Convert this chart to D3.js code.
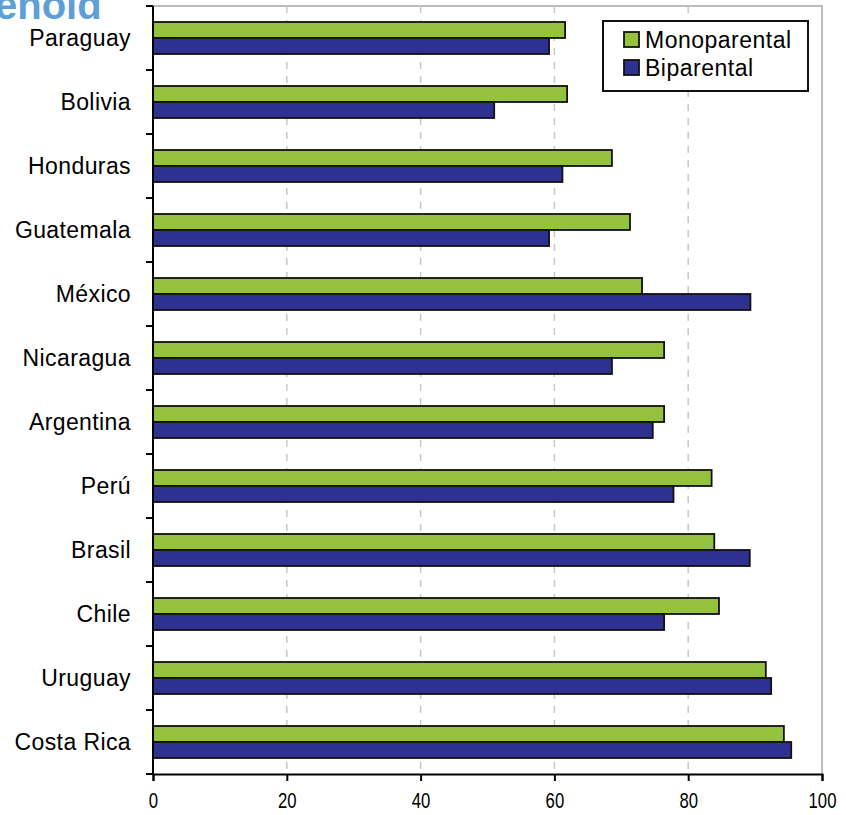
<!DOCTYPE html>
<html><head><meta charset="utf-8">
<script src="https://cdn.jsdelivr.net/npm/d3@7"></script>
<style>
html,body{margin:0;padding:0;background:#fff;}
svg{display:block;}
text{font-family:"Liberation Sans",Arial,sans-serif;}
</style></head>
<body>
<svg id="chart" width="846" height="815"></svg>
<script>
const categories = ["Paraguay","Bolivia","Honduras","Guatemala","México","Nicaragua","Argentina","Perú","Brasil","Chile","Uruguay","Costa Rica"];
const monoparental = [61.6, 61.9, 68.6, 71.3, 73.1, 76.4, 76.4, 83.5, 83.9, 84.6, 91.6, 94.3];
const biparental   = [59.2, 51.0, 61.2, 59.2, 89.3, 68.6, 74.7, 77.8, 89.2, 76.4, 92.4, 95.4];
const seriesNames = ["Monoparental","Biparental"];
const seriesColors = ["#95c23d","#2e3190"];
const xTicks = [0,20,40,60,80,100];

const svg = d3.select("#chart");
const L = 153, R = 822, T = 6, B = 774;

const x = d3.scaleLinear().domain([0,100]).range([L,R]);
const y = d3.scaleBand().domain(categories).range([T,B]).padding(0);
const ys = d3.scaleBand().domain(seriesNames).range([y.bandwidth()*0.25, y.bandwidth()*0.75]);

// partial title (cut off at the top edge, as in the source image)
svg.append("text").attr("x",-5).attr("y",19)
  .attr("font-size",40).attr("font-weight","bold").attr("fill","#5f9fd8")
  .text("enold");

// plot border (top, right)
svg.append("path").attr("d",`M${L},${T}H${R}V${B}`)
  .attr("fill","none").attr("stroke","#a6a6a6").attr("stroke-width",1.5);

// gridlines
svg.append("g").selectAll("line").data(xTicks.filter(d=>d>0 && d<100)).join("line")
  .attr("x1",d=>x(d)).attr("x2",d=>x(d)).attr("y1",T).attr("y2",B)
  .attr("stroke","#c8c8c8").attr("stroke-width",1.5).attr("stroke-dasharray","7,7");

// bars
const data = categories.map((c,i)=>({c, vals:[monoparental[i], biparental[i]]}));
const g = svg.append("g");
data.forEach(d=>{
  seriesNames.forEach((s,j)=>{
    g.append("rect")
      .attr("x",x(0)).attr("y",y(d.c)+ys(s))
      .attr("width",x(d.vals[j])-x(0)).attr("height",ys.bandwidth())
      .attr("fill",seriesColors[j]).attr("stroke","#111").attr("stroke-width",1.8);
  });
});

// y axis line and ticks at category boundaries
const bounds = categories.map(c=>y(c)).concat([B]);
svg.append("line").attr("x1",L).attr("x2",L).attr("y1",T).attr("y2",B)
  .attr("stroke","#000").attr("stroke-width",2);
svg.append("g").selectAll("line").data(bounds).join("line")
  .attr("x1",L-7).attr("x2",L).attr("y1",d=>d).attr("y2",d=>d)
  .attr("stroke","#000").attr("stroke-width",2);
svg.append("g").selectAll("text").data(categories).join("text")
  .attr("x",131).attr("y",d=>y(d)+y.bandwidth()/2).attr("dy","0.35em")
  .attr("text-anchor","end").attr("font-size",23).attr("letter-spacing",0.4).attr("fill","#000")
  .text(d=>d);

// x axis
const xAxis = d3.axisBottom(x).tickValues(xTicks).tickSize(7).tickPadding(11).tickFormat(d3.format("d"));
const xg = svg.append("g").attr("transform",`translate(0,${B})`).call(xAxis);
xg.select(".domain").attr("stroke","#000").attr("stroke-width",2);
xg.selectAll(".tick line").attr("stroke","#000").attr("stroke-width",2);
xg.selectAll(".tick text").attr("font-size",22).attr("fill","#000")
  .attr("transform","scale(0.76,1)")
  .attr("font-family","'Liberation Sans',Arial,sans-serif");

// legend
const lg = svg.append("g");
lg.append("rect").attr("x",603).attr("y",21).attr("width",205).attr("height",70)
  .attr("fill","#fff").attr("stroke","#111").attr("stroke-width",2);
seriesNames.forEach((s,j)=>{
  lg.append("rect").attr("x",624).attr("y",32+j*28).attr("width",15).attr("height",15)
    .attr("fill",seriesColors[j]).attr("stroke","#111").attr("stroke-width",1.8);
  lg.append("text").attr("x",645).attr("y",39.5+j*28).attr("dy","0.35em")
    .attr("font-size",23).attr("letter-spacing",0.5).attr("fill","#000").text(s);
});
</script>
</body></html>
